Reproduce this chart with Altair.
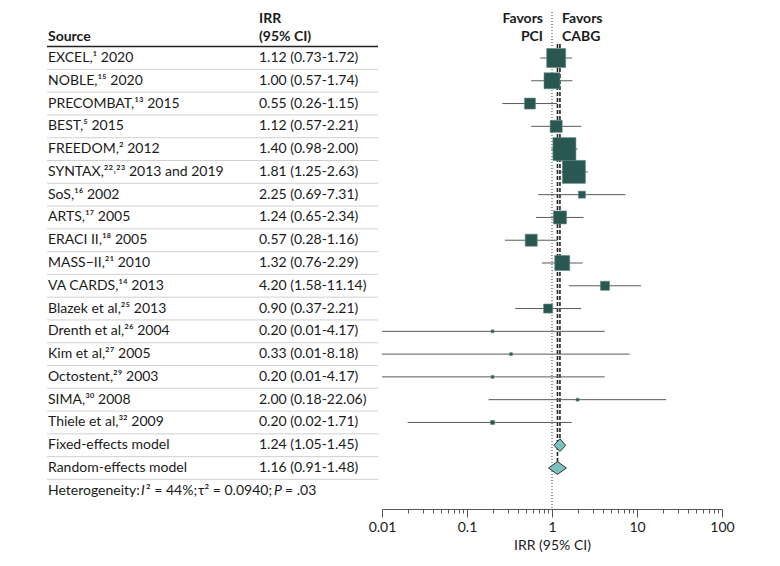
import altair as alt
import pandas as pd

# ---------------- data ----------------
sources = [
    "EXCEL,¹ 2020", "NOBLE,¹⁵ 2020", "PRECOMBAT,¹³ 2015", "BEST,⁵ 2015",
    "FREEDOM,² 2012", "SYNTAX,²²˒²³ 2013 and 2019", "SoS,¹⁶ 2002", "ARTS,¹⁷ 2005",
    "ERACI II,¹⁸ 2005", "MASS−II,²¹ 2010", "VA CARDS,¹⁴ 2013", "Blazek et al,²⁵ 2013",
    "Drenth et al,²⁶ 2004", "Kim et al,²⁷ 2005", "Octostent,²⁹ 2003", "SIMA,³⁰ 2008",
    "Thiele et al,³² 2009",
]
irr = [1.12, 1.00, 0.55, 1.12, 1.40, 1.81, 2.25, 1.24, 0.57, 1.32, 4.20, 0.90,
       0.20, 0.33, 0.20, 2.00, 0.20]
lower = [0.73, 0.57, 0.26, 0.57, 0.98, 1.25, 0.69, 0.65, 0.28, 0.76, 1.58, 0.37,
         0.01, 0.01, 0.01, 0.18, 0.02]
upper = [1.72, 1.74, 1.15, 2.21, 2.00, 2.63, 7.31, 2.34, 1.16, 2.29, 11.14, 2.21,
         4.17, 8.18, 4.17, 22.06, 1.71]
ci_text = [
    "1.12 (0.73-1.72)", "1.00 (0.57-1.74)", "0.55 (0.26-1.15)", "1.12 (0.57-2.21)",
    "1.40 (0.98-2.00)", "1.81 (1.25-2.63)", "2.25 (0.69-7.31)", "1.24 (0.65-2.34)",
    "0.57 (0.28-1.16)", "1.32 (0.76-2.29)", "4.20 (1.58-11.14)", "0.90 (0.37-2.21)",
    "0.20 (0.01-4.17)", "0.33 (0.01-8.18)", "0.20 (0.01-4.17)", "2.00 (0.18-22.06)",
    "0.20 (0.02-1.71)",
]
weights = [13.2, 9.3, 4.4, 5.3, 19.3, 19.3, 1.8, 6.2, 5.3, 8.2, 3.0, 3.0,
           0.3, 0.3, 0.3, 0.3, 0.6]

pooled_labels = ["Fixed-effects model", "Random-effects model"]
pooled_est = [1.24, 1.16]
pooled_lo = [1.05, 0.91]
pooled_hi = [1.45, 1.48]
pooled_text = ["1.24 (1.05-1.45)", "1.16 (0.91-1.48)"]

tick_values = [m * 10.0 ** e for e in range(-2, 2) for m in range(1, 10)] + [100.0]

# ---------------- tables ----------------
n = len(sources)
studies = pd.DataFrame({
    "row": list(range(n)), "source": sources, "irr": irr, "lo": lower,
    "hi": upper, "ci": ci_text, "w": weights,
})
pooled = pd.DataFrame({
    "row": [n, n + 1], "top": [-0.615, -0.615], "source": pooled_labels, "irr": pooled_est,
    "lo": pooled_lo, "hi": pooled_hi, "ci": pooled_text,
})
text_rows = pd.concat([studies[["row", "source", "ci"]], pooled[["row", "source", "ci"]]])
sep = pd.DataFrame({"y": [r + 0.5 for r in range(n + 2)]})

half = 0.28
dia_rows = []
for i in range(2):
    r = n + i
    dia_rows += [
        {"id": i, "x": pooled_lo[i], "y": r, "y2": r},
        {"id": i, "x": pooled_est[i], "y": r - half, "y2": r + half},
        {"id": i, "x": pooled_hi[i], "y": r, "y2": r},
    ]
diamonds = pd.DataFrame(dia_rows)

FONT = "Lato"
FS = 14
TXT = "#1a1a1a"
SQ = "#2b5753"
W, H = 340, 501

xscale = alt.Scale(type="log", domain=[0.01, 100], nice=False)
yscale = alt.Scale(domain=[-2.195, 19.80], reverse=True, nice=False, zero=False)

is_major = "abs(log(datum.value)/LN10 - round(log(datum.value)/LN10)) < 1e-6"
xaxis = alt.Axis(
    values=tick_values, title="IRR (95% CI)", grid=False,
    labelExpr="(abs(log(datum.value)/LN10 - round(log(datum.value)/LN10)) < 1e-6) ? format(datum.value, '~g') : ''",
    tickSize={"condition": {"test": is_major, "value": 8}, "value": 4},
    tickColor="#555", domainColor="#555", labelFont=FONT, labelFontSize=FS,
    labelColor=TXT, titleFont=FONT, titleFontSize=FS, titleFontWeight="normal",
    titleColor=TXT, labelPadding=3, titlePadding=4, labelFlush=False,
)

# separators
seps = alt.Chart(sep).mark_rule(color="#d0d0d0", strokeWidth=1).encode(
    y=alt.Y("y:Q", scale=yscale, axis=None),
    x=alt.value(-335), x2=alt.value(-4),
)
header_line = alt.Chart(pd.DataFrame({"y": [-0.5]})).mark_rule(color="#222", strokeWidth=1.5).encode(
    y=alt.Y("y:Q", scale=yscale, axis=None), x=alt.value(-335), x2=alt.value(-4),
)

src_text = alt.Chart(text_rows).mark_text(
    align="left", baseline="middle", font=FONT, fontSize=FS, color=TXT
).encode(y=alt.Y("row:Q", scale=yscale, axis=None), x=alt.value(-334), text="source:N")
ci_col = alt.Chart(text_rows).mark_text(
    align="left", baseline="middle", font=FONT, fontSize=FS, color=TXT
).encode(y=alt.Y("row:Q", scale=yscale, axis=None), x=alt.value(-123), text="ci:N")

# header / annotation texts: (text, x px, y px, align, weight, style)
header_specs = [
    ("Source", -334, 28.5, "left", "bold", "normal"),
    ("IRR", -123, 11, "left", "bold", "normal"),
    ("(95% CI)", -123, 28.5, "left", "bold", "normal"),
    ("Favors", 161, 11, "right", "bold", "normal"),
    ("PCI", 161, 28.5, "right", "bold", "normal"),
    ("Favors", 180, 11, "left", "bold", "normal"),
    ("CABG", 180, 28.5, "left", "bold", "normal"),
    ("Heterogeneity:", -334, 482.8, "left", "normal", "normal"),
    ("I", -241, 482.8, "left", "normal", "italic"),
    ("² = 44%;", -236, 482.8, "left", "normal", "normal"),
    ("τ² = 0.0940;", -184, 482.8, "left", "normal", "normal"),
    ("P", -108, 482.8, "left", "normal", "italic"),
    ("= .03", -97, 482.8, "left", "normal", "normal"),
]
ann_layers = []
for t, px, py, al, wt, st in header_specs:
    ann_layers.append(
        alt.Chart(pd.DataFrame({"t": [t]})).mark_text(
            align=al, baseline="middle", font=FONT, fontSize=FS, fontWeight=wt,
            fontStyle=st, color=TXT,
        ).encode(x=alt.value(px), y=alt.value(py), text="t:N")
    )

# reference lines
null_line = alt.Chart(pd.DataFrame({"v": [1.0]})).mark_rule(
    color="#444", strokeDash=[1, 2], strokeWidth=1
).encode(x=alt.X("v:Q", scale=xscale, axis=xaxis), y=alt.value(4), y2=alt.value(H))

pool_lines = alt.Chart(pooled).mark_rule(color="#222", strokeDash=[4, 2], strokeWidth=1.6).encode(
    x=alt.X("irr:Q", scale=xscale, axis=xaxis),
    y=alt.Y("top:Q", scale=yscale, axis=None),
    y2="row:Q",
)

ci_lines = alt.Chart(studies).mark_rule(color="#5a5a5a", strokeWidth=1).encode(
    x=alt.X("lo:Q", scale=xscale, axis=xaxis), x2="hi:Q",
    y=alt.Y("row:Q", scale=yscale, axis=None),
)
squares = alt.Chart(studies).mark_square(
    filled=True, color=SQ, opacity=1, stroke="#5d8a86", strokeWidth=0.6
).encode(
    x=alt.X("irr:Q", scale=xscale, axis=xaxis),
    y=alt.Y("row:Q", scale=yscale, axis=None),
    size=alt.Size("w:Q", scale=alt.Scale(domain=[0, 19.3], range=[0, 529], zero=True), legend=None),
)

dias = alt.Chart(diamonds).mark_area(
    orient="vertical", color="#79c2bd", stroke="#333", strokeWidth=1, opacity=1
).encode(
    x=alt.X("x:Q", scale=xscale, axis=xaxis),
    y=alt.Y("y:Q", scale=yscale, axis=None), y2="y2:Q",
    detail="id:N",
)

chart = alt.layer(
    seps, header_line, null_line, pool_lines, ci_lines, squares, dias,
    src_text, ci_col, *ann_layers,
).properties(
    width=W, height=H, background="white",
    autosize=alt.AutoSizeParams(type="none"),
    padding={"left": 374, "top": 0, "right": 50, "bottom": 45},
).configure_view(stroke=None)

chart.save("out.html", embed_options={"renderer": "svg", "actions": False})
